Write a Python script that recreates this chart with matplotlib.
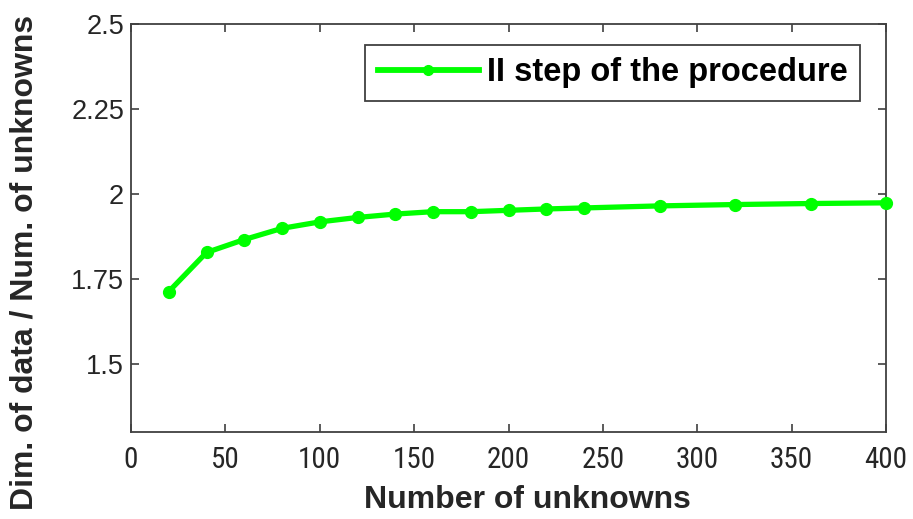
import matplotlib
matplotlib.use("Agg")
import matplotlib.pyplot as plt
from matplotlib import font_manager as fm

# ---- data ----
n_unknowns = [20, 40, 60, 80, 100, 120, 140, 160, 180, 200, 220, 240, 280, 320, 360, 400]
ratio = [1.713, 1.828, 1.866, 1.899, 1.918, 1.931, 1.941, 1.948, 1.948, 1.952,
         1.956, 1.959, 1.965, 1.969, 1.972, 1.974]
series_label = "II step of the procedure"
x_ticks = [0, 50, 100, 150, 200, 250, 300, 350, 400]
y_ticks = [1.5, 1.75, 2, 2.25, 2.5]
y_tick_labels = ["1.5", "1.75", "2", "2.25", "2.5"]

names = {f.name for f in fm.fontManager.ttflist}
narrow = "Liberation Sans"
for cand in ["Liberation Sans Narrow", "Arial Narrow", "Roboto Condensed",
             "Open Sans Condensed", "Noto Sans Condensed", "DejaVu Sans Condensed"]:
    if cand in names:
        narrow = cand
        break

plt.rcParams["font.family"] = ["Liberation Sans", "DejaVu Sans"]

fig = plt.figure(figsize=(9.13, 5.19), dpi=100)
ax = fig.add_axes([131 / 913, 1 - 432 / 519, (886 - 131) / 913, (432 - 24) / 519])

ax.plot(n_unknowns, ratio, color="#00ff00", linewidth=3.8, marker="o",
        markersize=8.5, label=series_label, clip_on=False, zorder=3)

ax.set_xlim(0, 400)
ax.set_ylim(1.3, 2.5)
ax.set_xticks(x_ticks)
ax.set_xticklabels([str(v) for v in x_ticks], fontsize=21, family=[narrow, "DejaVu Sans"],
                   color="#262626")
ax.set_yticks(y_ticks)
ax.set_yticklabels(y_tick_labels, fontsize=19.5, color="#262626")

ax.tick_params(direction="in", length=6, width=1.2, top=True, right=True,
               color="#404040")
ax.tick_params(axis="x", pad=10)
ax.tick_params(axis="y", pad=5)
for s in ax.spines.values():
    s.set_color("#404040")
    s.set_linewidth(1.3)

ax.set_xlabel("Number of unknowns", fontsize=23, fontweight="bold", color="#262626")
ax.xaxis.set_label_coords(527 / 913, 1 - 500 / 519, transform=fig.transFigure)
ax.xaxis.label.set_va("center")
ax.set_ylabel("Dim. of data / Num. of unknowns", fontsize=23, fontweight="bold",
              color="#262626")
ax.yaxis.set_label_coords(25 / 913, 1 - 262 / 519, transform=fig.transFigure)
ax.yaxis.label.set_va("center")

leg = ax.legend(loc="upper right", bbox_to_anchor=(860 / 913, 1 - 45 / 519),
                bbox_transform=fig.transFigure, fancybox=False, framealpha=1,
                edgecolor="#404040", handlelength=3.1, handletextpad=0.25,
                borderpad=0.38, borderaxespad=0,
                prop={"family": "Liberation Sans", "weight": "bold", "size": 23.5})
leg.get_frame().set_linewidth(1.3)
for h in leg.get_lines():
    h.set_markersize(7)
    h.set_linewidth(4.2)

fig.savefig("out.png", dpi=100, facecolor="white")
